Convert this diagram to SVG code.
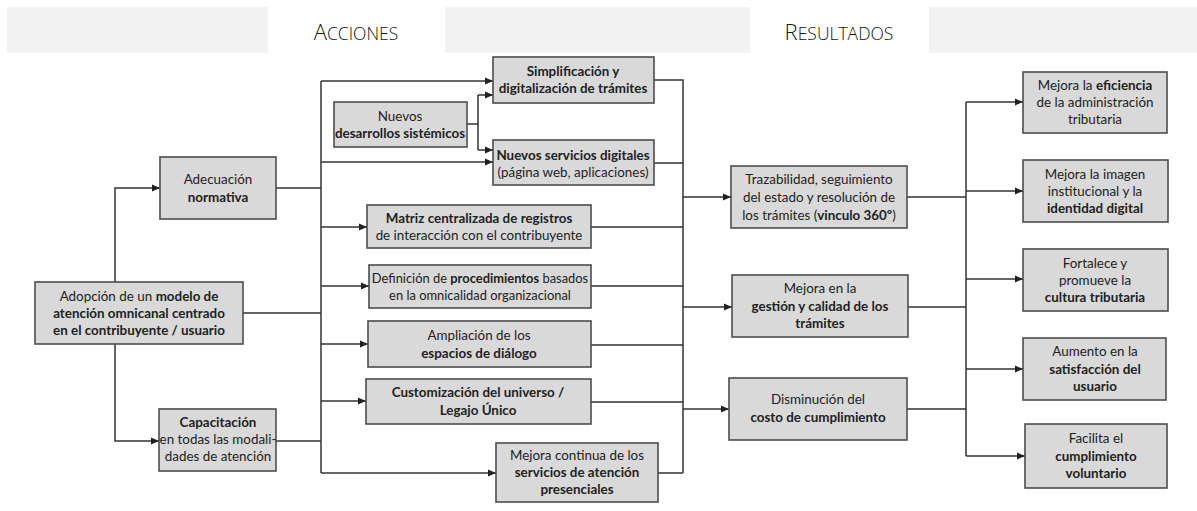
<svg xmlns="http://www.w3.org/2000/svg" width="1197" height="511" viewBox="0 0 1197 511">
<style>
.band{fill:#f2f2f2}
.hd{font-family:"Open Sans","Liberation Sans",sans-serif;font-weight:300;fill:#111}
.box{fill:#d9d9d9;stroke:#4d4d4d;stroke-width:1.6}
.t{font-family:Lato,"Liberation Sans",sans-serif;font-size:13.4px;fill:#222;text-anchor:middle}
.s{font-size:12.9px}
.b{font-weight:bold}
.c{fill:none;stroke:#333;stroke-width:1.5}
.a{marker-end:url(#arr)}
</style>
<defs>
<marker id="arr" markerUnits="userSpaceOnUse" markerWidth="8" markerHeight="8" refX="8" refY="4" orient="auto">
<path d="M0,0.5 L8,4 L0,7.5 z" fill="#222"/>
</marker>
</defs>
<g id="header">
<rect class="band" x="7" y="7" width="261" height="46"/>
<rect class="band" x="445" y="7" width="305" height="46"/>
<rect class="band" x="929" y="7" width="268" height="46"/>
<text class="hd" x="356" y="40" text-anchor="middle"><tspan font-size="22">A</tspan><tspan font-size="17.5">CCIONES</tspan></text>
<text class="hd" x="839" y="40" text-anchor="middle"><tspan font-size="22">R</tspan><tspan font-size="17.5">ESULTADOS</tspan></text>
</g>
<g id="connectors">
<path class="c a" d="M115,282 V188 H160"/>
<path class="c a" d="M115,344 V441 H159"/>
<path class="c" d="M243,313 H321 M276,188 H321 M276,441 H321 M321,81 V473"/>
<path class="c a" d="M321,81 H493"/>
<path class="c a" d="M321,162 H493"/>
<path class="c a" d="M321,227 H367"/>
<path class="c a" d="M321,286 H369"/>
<path class="c a" d="M321,344 H368"/>
<path class="c a" d="M321,401 H366"/>
<path class="c a" d="M321,473 H496"/>
<path class="c" d="M467,124 H478 M478,95 V150"/>
<path class="c a" d="M478,95 H493"/>
<path class="c a" d="M478,150 H493"/>
<path class="c" d="M654,80 H683 V473 M654,163 H683 M591,227 H683 M591,286 H683 M591,345 H683 M591,402 H683 M658,473 H683"/>
<path class="c a" d="M683,197 H731"/>
<path class="c a" d="M683,307 H732"/>
<path class="c a" d="M683,409 H729"/>
<path class="c" d="M907,197 H966 M908,307 H966 M907,409 H966 M966,102 V456"/>
<path class="c a" d="M966,102 H1023"/>
<path class="c a" d="M966,191 H1023"/>
<path class="c a" d="M966,279 H1023"/>
<path class="c a" d="M966,369 H1023"/>
<path class="c a" d="M966,456 H1025"/>
</g>
<g id="adopcion">
<rect class="box" x="35" y="282" width="208" height="62"/>
<text class="t" x="139" y="301">Adopción de un <tspan class="b">modelo  de</tspan></text>
<text class="t b" x="139" y="318">atención omnicanal centrado</text>
<text class="t b" x="139" y="335">en el contribuyente / usuario</text>
</g>
<g id="adecuacion">
<rect class="box" x="160" y="157" width="116" height="62"/>
<text class="t" x="218" y="184">Adecuación</text>
<text class="t b" x="218" y="202">normativa</text>
</g>
<g id="capacitacion">
<rect class="box" x="159" y="409" width="117" height="62"/>
<text class="t b" x="218" y="427">Capacitación</text>
<text class="t" x="218" y="444">en todas las modali-</text>
<text class="t" x="218" y="461">dades de atención</text>
</g>
<g id="simplificacion">
<rect class="box" x="493" y="57" width="161" height="46"/>
<text class="t b" x="573" y="76">Simplificación y</text>
<text class="t b" x="573" y="93">digitalización de trámites</text>
</g>
<g id="desarrollos">
<rect class="box" x="334" y="102" width="133" height="45"/>
<text class="t" x="400" y="121">Nuevos</text>
<text class="t b" x="400" y="138">desarrollos sistémicos</text>
</g>
<g id="servicios">
<rect class="box" x="493" y="140" width="161" height="45"/>
<text class="t b" x="573" y="160">Nuevos servicios digitales</text>
<text class="t" x="573" y="177">(página web, aplicaciones)</text>
</g>
<g id="matriz">
<rect class="box" x="367" y="205" width="224" height="43"/>
<text class="t b" x="479" y="223">Matriz centralizada de registros</text>
<text class="t" x="479" y="240">de interacción  con el contribuyente</text>
</g>
<g id="definicion">
<rect class="box" x="369" y="265" width="222" height="43"/>
<text class="t s" x="480" y="283">Definición de <tspan class="b">procedimientos</tspan> basados</text>
<text class="t s" x="480" y="300">en la omnicalidad organizacional</text>
</g>
<g id="ampliacion">
<rect class="box" x="368" y="321" width="223" height="46"/>
<text class="t" x="479" y="340">Ampliación de los</text>
<text class="t b" x="479" y="358">espacios de diálogo</text>
</g>
<g id="customizacion">
<rect class="box" x="366" y="379" width="225" height="45"/>
<text class="t b" x="478" y="397">Customización del universo  /</text>
<text class="t b" x="478" y="415">Legajo Único</text>
</g>
<g id="mejoracontinua">
<rect class="box" x="496" y="443" width="162" height="59"/>
<text class="t" x="577" y="460">Mejora continua de los</text>
<text class="t b" x="577" y="477">servicios de atención</text>
<text class="t b" x="577" y="494">presenciales</text>
</g>
<g id="trazabilidad">
<rect class="box" x="731" y="166" width="176" height="62"/>
<text class="t" x="819" y="184">Trazabilidad, seguimiento</text>
<text class="t" x="819" y="202">del estado y resolución de</text>
<text class="t" x="819" y="220">los trámites (<tspan class="b">vinculo 360º</tspan>)</text>
</g>
<g id="gestion">
<rect class="box" x="732" y="275" width="176" height="62"/>
<text class="t" x="820" y="293">Mejora en la</text>
<text class="t b" x="820" y="311">gestión y calidad de los</text>
<text class="t b" x="820" y="328">trámites</text>
</g>
<g id="disminucion">
<rect class="box" x="729" y="378" width="178" height="62"/>
<text class="t" x="818" y="404">Disminución del</text>
<text class="t b" x="818" y="422">costo de cumplimiento</text>
</g>
<g id="eficiencia">
<rect class="box" x="1023" y="72" width="144" height="61"/>
<text class="t" x="1095" y="90">Mejora la <tspan class="b">eficiencia</tspan></text>
<text class="t" x="1095" y="107">de la administración</text>
<text class="t" x="1095" y="124">tributaria</text>
</g>
<g id="imagen">
<rect class="box" x="1023" y="160" width="145" height="62"/>
<text class="t" x="1095" y="179">Mejora la imagen</text>
<text class="t" x="1095" y="196">institucional y la</text>
<text class="t b" x="1095" y="213">identidad digital</text>
</g>
<g id="cultura">
<rect class="box" x="1023" y="249" width="145" height="62"/>
<text class="t" x="1095" y="268">Fortalece y</text>
<text class="t" x="1095" y="285">promueve la</text>
<text class="t b" x="1095" y="302">cultura tributaria</text>
</g>
<g id="satisfaccion">
<rect class="box" x="1023" y="338" width="143" height="62"/>
<text class="t" x="1095" y="356">Aumento en la</text>
<text class="t b" x="1095" y="374">satisfacción del</text>
<text class="t b" x="1095" y="391">usuario</text>
</g>
<g id="cumplimiento">
<rect class="box" x="1025" y="424" width="142" height="64"/>
<text class="t" x="1096" y="443">Facilita el</text>
<text class="t b" x="1096" y="461">cumplimiento</text>
<text class="t b" x="1096" y="478">voluntario</text>
</g>
</svg>
